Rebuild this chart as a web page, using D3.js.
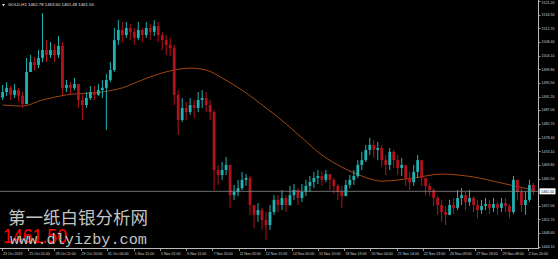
<!DOCTYPE html>
<html>
  <head>
    <meta charset="utf-8">
    <script src="https://d3js.org/d3.v7.min.js"></script>
    <style>
      body { margin: 0; background: #000; }
      svg { display: block; }
      .axis-label { font-family: "Liberation Sans", sans-serif; font-size: 3.6px; fill: #d0d0d0; }
    </style>
  </head>
<body>
<script type="text/javascript">
"use strict";

// chart header
var symbol = "GOLD,H1";
var lastQuote = ["1462.78", "1463.60", "1461.48", "1461.50"];

var openFirst = 1491.0;
var closes = [1492.7,1494.0,1491.8,1493.3,1491.5,1488.9,1499.0,1502.1,1501.2,1503.4,
  1505.9,1504.3,1505.9,1504.3,1507.2,1494.0,1494.9,1494.0,1495.2,1490.2,
  1488.6,1490.8,1492.7,1491.8,1493.3,1494.0,1496.5,1499.6,1509.0,1512.2,
  1510.6,1512.8,1511.6,1509.7,1512.2,1510.6,1512.8,1511.6,1513.4,1510.6,
  1509.0,1507.5,1506.5,1491.8,1483.9,1487.7,1486.4,1488.6,1487.7,1490.2,
  1490.8,1488.6,1486.4,1468.2,1466.6,1468.2,1469.8,1460.3,1461.3,1462.5,
  1465.1,1465.7,1457.2,1454.1,1455.6,1452.5,1450.9,1455.0,1458.8,1457.2,
  1459.4,1457.2,1460.3,1461.9,1459.4,1461.3,1463.2,1464.4,1465.7,1466.3,
  1465.1,1466.9,1465.1,1463.2,1461.3,1460.0,1463.5,1465.1,1466.3,1469.8,
  1471.3,1474.5,1476.1,1474.5,1475.1,1471.3,1469.8,1473.9,1471.3,1468.8,
  1469.8,1465.7,1464.4,1467.6,1471.3,1465.7,1463.2,1461.9,1459.4,1457.2,
  1455.0,1454.1,1457.2,1456.3,1459.4,1460.3,1458.1,1459.4,1457.2,1455.6,
  1456.9,1457.5,1456.3,1457.5,1456.3,1457.8,1456.9,1455.0,1465.1,1461.3,
  1457.2,1458.8,1463.5,1461.5];
var highs = [1494.9,1495.8,1494.6,1495.2,1494.0,1492.7,1503.4,1504.3,1503.7,1505.9,
  1517.5,1509.0,1508.4,1507.8,1510.3,1508.4,1496.5,1495.8,1497.1,1494.6,
  1491.8,1492.7,1494.6,1494.6,1495.2,1496.5,1498.4,1502.1,1512.8,1515.3,
  1514.7,1514.7,1514.1,1512.8,1514.7,1512.8,1514.7,1514.1,1515.3,1514.7,
  1511.6,1510.6,1509.7,1507.5,1493.3,1490.8,1489.6,1490.8,1490.2,1492.7,
  1493.3,1492.7,1490.2,1487.1,1469.8,1470.7,1472.3,1469.8,1463.5,1465.1,
  1467.6,1466.9,1466.3,1457.2,1457.8,1456.3,1455.0,1457.2,1460.3,1460.3,
  1461.9,1460.3,1463.2,1463.8,1462.5,1463.8,1465.1,1466.3,1467.6,1468.2,
  1467.6,1468.2,1466.9,1465.7,1463.8,1463.2,1465.1,1466.6,1468.2,1471.3,
  1473.9,1476.1,1478.3,1477.6,1477.0,1476.1,1472.9,1475.1,1474.5,1472.9,
  1472.0,1468.8,1467.6,1469.8,1472.9,1469.8,1465.1,1464.1,1462.5,1460.0,
  1458.8,1456.9,1458.8,1459.4,1461.9,1462.5,1461.3,1461.9,1460.0,1458.8,
  1458.8,1459.4,1458.8,1459.4,1458.1,1459.4,1459.4,1457.5,1466.3,1465.1,
  1462.5,1461.3,1465.1,1464.1];
var lows = [1490.2,1491.5,1490.2,1490.8,1489.6,1487.7,1488.9,1499.0,1499.6,1500.2,
  1502.1,1502.1,1503.4,1502.1,1503.4,1491.8,1492.7,1491.8,1493.3,1487.7,
  1483.9,1487.7,1490.2,1490.2,1491.5,1490.8,1480.8,1495.8,1499.0,1507.5,
  1508.4,1509.7,1509.0,1507.5,1509.0,1508.4,1509.7,1509.0,1510.3,1508.4,
  1505.9,1504.3,1504.0,1488.6,1479.2,1483.3,1483.9,1485.5,1484.5,1486.4,
  1487.7,1486.4,1483.9,1461.9,1463.5,1465.1,1466.6,1456.3,1458.8,1460.0,
  1461.9,1463.2,1454.1,1450.0,1451.9,1449.4,1446.2,1449.4,1454.1,1455.0,
  1455.6,1455.0,1456.9,1458.8,1457.2,1458.1,1460.0,1461.3,1462.5,1463.8,
  1463.2,1464.4,1461.9,1460.7,1458.8,1456.3,1460.3,1462.5,1463.5,1465.7,
  1468.2,1470.7,1472.9,1472.0,1471.3,1469.1,1466.6,1468.2,1468.8,1466.6,
  1466.3,1463.2,1461.9,1463.2,1465.7,1463.2,1460.3,1460.0,1456.9,1454.1,
  1451.9,1450.9,1454.1,1454.4,1455.6,1457.2,1455.6,1456.9,1455.0,1453.1,
  1454.4,1455.6,1454.4,1455.0,1454.1,1455.0,1455.0,1453.1,1454.4,1458.8,
  1455.0,1454.1,1458.1,1460.3];

// moving average, sampled at some candle indices
var maIndex = [0, 5, 10, 16, 25, 30, 35, 40, 47, 51, 55, 60, 66, 69, 75, 80, 85, 90, 95, 103, 110, 118, 125, 133];
var maValue = [1488.6, 1488.3, 1490.2, 1491.8, 1492.7, 1494.0, 1496.5, 1498.7, 1500.2, 1499.6, 1497.1, 1493.3,
  1487.7, 1484.8, 1478.3, 1472.9, 1469.1, 1466.3, 1464.7, 1465.7, 1466.9, 1466.0, 1464.1, 1461.9];

// price scale ticks
var priceTicks = [1521.20, 1516.90, 1512.70, 1508.40, 1504.10, 1499.80, 1495.50, 1491.20, 1487.00,
  1482.70, 1478.40, 1474.10, 1469.80, 1465.50, 1457.00, 1452.70, 1448.40, 1444.10];
var currentPrice = 1461.50;

// time labels, with their hourly bar number
var timeLabels = ["23 Oct 2019", "25 Oct 01:00", "28 Oct 11:00", "29 Oct 20:00", "31 Oct 06:00",
  "1 Nov 15:00", "5 Nov 01:00", "6 Nov 11:00", "7 Nov 20:00", "11 Nov 05:00", "12 Nov 15:00",
  "14 Nov 00:00", "15 Nov 10:00", "18 Nov 19:00", "20 Nov 04:00", "21 Nov 14:00", "22 Nov 23:00",
  "26 Nov 09:00", "27 Nov 18:00", "29 Nov 08:00", "2 Dec 20:00"];
var timeBars = [0, 33, 66, 99, 132, 166, 199, 232, 265, 298, 331, 365, 398, 431, 464, 497, 530, 563, 596, 629, 662];

// watermark
var siteName = "第一纸白银分析网";
var siteUrl = "www.dlyizby.com";

var width = 558, height = 259;
var plotRight = 538, plotBottom = 248;

var svg = d3.select("body").append("svg")
    .attr("width", width)
    .attr("height", height);

svg.append("rect").attr("width", width).attr("height", height).attr("fill", "#000");

var candles = closes.map(function (c, i) {
  return { i: i, o: i === 0 ? openFirst : closes[i - 1], h: highs[i], l: lows[i], c: c };
});

var x = d3.scaleBand()
    .domain(d3.range(candles.length))
    .range([0, 536])
    .padding(0.3);

var y = d3.scaleLinear()
    .domain([1444.10, 1521.20])
    .range([246.7, 1.3]);

var xt = d3.scaleLinear().domain([0, 675]).range([2, 538]);

var bull = "#1fb3b3", bear = "#b3121c";

// moving average
var ma = maIndex.map(function (k, j) { return [k, maValue[j]]; });
svg.append("path")
    .datum(ma)
    .attr("fill", "none")
    .attr("stroke", "#a3460e")
    .attr("stroke-width", 1)
    .attr("d", d3.line()
        .x(function (d) { return x(d[0]) + x.bandwidth() / 2; })
        .y(function (d) { return y(d[1]); })
        .curve(d3.curveMonotoneX));

// candles
var g = svg.append("g");
g.selectAll("line.wick")
    .data(candles)
    .enter().append("line")
      .attr("class", "wick")
      .attr("x1", function (d) { return x(d.i) + x.bandwidth() / 2; })
      .attr("x2", function (d) { return x(d.i) + x.bandwidth() / 2; })
      .attr("y1", function (d) { return y(d.h); })
      .attr("y2", function (d) { return y(d.l); })
      .attr("stroke", function (d) { return d.c >= d.o ? bull : bear; })
      .attr("stroke-width", 1);

g.selectAll("rect.body")
    .data(candles)
    .enter().append("rect")
      .attr("class", "body")
      .attr("x", function (d) { return x(d.i); })
      .attr("width", x.bandwidth())
      .attr("y", function (d) { return y(Math.max(d.o, d.c)); })
      .attr("height", function (d) { return Math.max(1, Math.abs(y(d.o) - y(d.c))); })
      .attr("fill", function (d) { return d.c >= d.o ? bull : bear; });

// current price line
svg.append("line")
    .attr("x1", 0).attr("x2", plotRight)
    .attr("y1", y(currentPrice)).attr("y2", y(currentPrice))
    .attr("stroke", "#8a8a8a").attr("stroke-width", 0.8);

// axis frame
svg.append("line").attr("x1", plotRight + 0.5).attr("x2", plotRight + 0.5)
    .attr("y1", 0).attr("y2", plotBottom).attr("stroke", "#bbb").attr("stroke-width", 1);
svg.append("line").attr("x1", 0).attr("x2", plotRight + 1)
    .attr("y1", plotBottom + 0.5).attr("y2", plotBottom + 0.5).attr("stroke", "#bbb").attr("stroke-width", 1);

// price axis
var py = svg.append("g").selectAll("g").data(priceTicks).enter().append("g");
py.append("line")
    .attr("x1", plotRight).attr("x2", plotRight + 2.5)
    .attr("y1", function (d) { return Math.round(y(d)) + 0.5; })
    .attr("y2", function (d) { return Math.round(y(d)) + 0.5; })
    .attr("stroke", "#bbb").attr("stroke-width", 0.8);
py.append("text")
    .attr("class", "axis-label")
    .attr("x", plotRight + 3.5)
    .attr("y", function (d) { return Math.max(4, y(d) + 1.3); })
    .text(function (d) { return d.toFixed(2); });

// current price tag
svg.append("rect")
    .attr("x", plotRight + 1.5).attr("y", y(currentPrice) - 3)
    .attr("width", 16).attr("height", 6)
    .attr("fill", "#fff");
svg.append("text")
    .attr("class", "axis-label")
    .attr("x", plotRight + 3).attr("y", y(currentPrice) + 1.3)
    .style("fill", "#000")
    .text(currentPrice.toFixed(2));

// time axis
var tx = svg.append("g").selectAll("g").data(timeLabels).enter().append("g");
tx.append("line")
    .attr("x1", function (d, i) { return Math.round(xt(timeBars[i])) + 0.5; })
    .attr("x2", function (d, i) { return Math.round(xt(timeBars[i])) + 0.5; })
    .attr("y1", plotBottom).attr("y2", plotBottom + 3)
    .attr("stroke", "#bbb").attr("stroke-width", 0.8);
tx.append("text")
    .attr("class", "axis-label")
    .attr("x", function (d, i) { return xt(timeBars[i]) + 1; })
    .attr("y", 254.5)
    .text(function (d) { return d; });

// header
svg.append("path")
    .attr("d", "M2,4 L5,4 L3.5,6.5 Z")
    .attr("fill", "#ddd");
svg.append("text")
    .attr("x", 8).attr("y", 6.3)
    .style("font-family", "Liberation Sans, sans-serif")
    .style("font-size", "4.3px")
    .style("fill", "#e0e0e0")
    .text(symbol + "  " + lastQuote.join(" "));

// watermark
svg.append("text")
    .attr("x", 8).attr("y", 224)
    .style("font-family", "Noto Sans CJK SC")
    .style("font-size", "17.5px")
    .style("fill", "#c4c4c4")
    .text(siteName);
svg.append("text")
    .attr("x", 3).attr("y", 243)
    .attr("textLength", 64).attr("lengthAdjust", "spacingAndGlyphs")
    .style("font-family", "Liberation Sans, sans-serif")
    .style("font-size", "20px")
    .style("fill", "#ff0000")
    .text(currentPrice.toFixed(2));
svg.append("text")
    .attr("x", 10).attr("y", 244)
    .attr("textLength", 137).attr("lengthAdjust", "spacingAndGlyphs")
    .style("font-family", "Liberation Mono, monospace")
    .style("font-size", "15px")
    .style("fill", "#c4c4c4")
    .text(siteUrl);
</script>
</body>
</html>
